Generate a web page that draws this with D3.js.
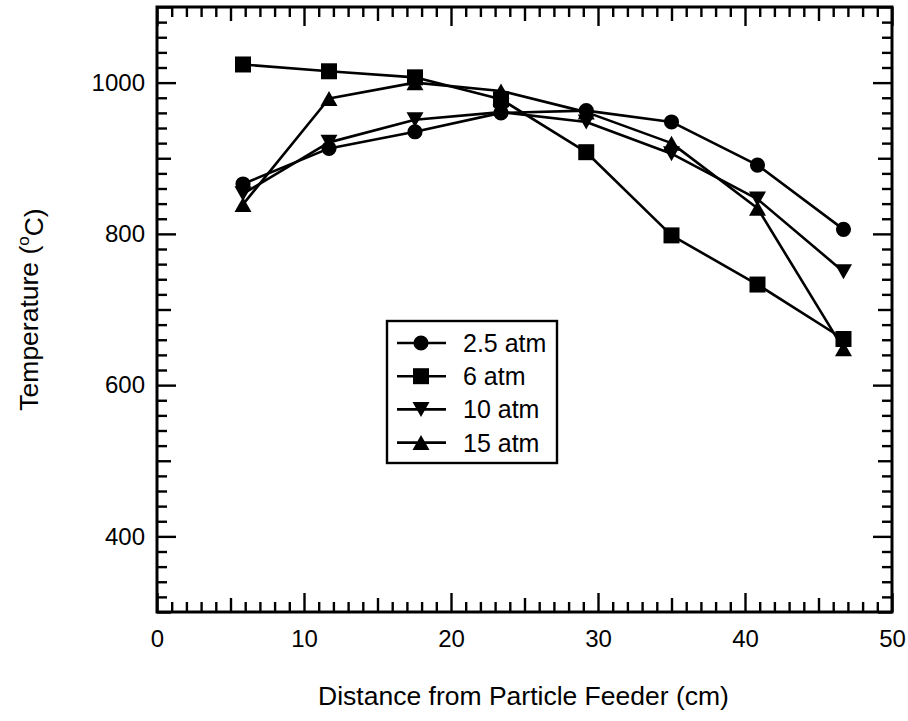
<!DOCTYPE html>
<html>
<head>
<meta charset="utf-8">
<script src="https://cdn.jsdelivr.net/npm/d3@7"></script>
<style>
  html, body { margin: 0; padding: 0; background: #fff; }
  svg { display: block; }
  text { font-family: "Liberation Sans", Arial, Helvetica, sans-serif; fill: #000; }
</style>
</head>
<body>
<svg id="chart" width="908" height="721"></svg>
<script>
// ---- data ----
const distances = [5.85, 11.7, 17.55, 23.4, 29.2, 35.0, 40.85, 46.7];
const series25 = [866, 913, 935, 960, 963, 948, 891, 806];
const series6  = [1024, 1015, 1007, 978, 908, 798, 733, 661];
const series10 = [853, 921, 951, 961, 948, 906, 846, 750];
const series15 = [839, 979, 1000, 989, 961, 920, 834, 648];
const seriesNames = ["2.5 atm", "6 atm", "10 atm", "15 atm"];
const seriesSymbols = ["circle", "square", "down", "up"];
const xMajorTicks = [0, 10, 20, 30, 40, 50];
const yMajorTicks = [400, 600, 800, 1000];
const xDomain = [0, 50];
const yDomain = [300, 1100];
const xLabel = "Distance from Particle Feeder (cm)";

const allSeries = [series25, series6, series10, series15];

const svg = d3.select("#chart");
const L = 157, R = 892, T = 7, B = 612;

const x = d3.scaleLinear().domain(xDomain).range([L, R]);
const y = d3.scaleLinear().domain(yDomain).range([B, T]);

const xMinor = d3.range(0, 51, 1).filter(v => v % 5 !== 0);
const xMedium = d3.range(5, 50, 10);
const yMinor = d3.range(300, 1101, 20).filter(v => v % 100 !== 0);
const yMedium = d3.range(300, 1101, 200);

const MINOR = 10, MEDIUM = 14, MAJOR = 19;
const axisColor = "#000";

function styleAxis(g) {
  g.select(".domain").remove();
  g.selectAll(".tick line").attr("stroke", axisColor).attr("stroke-width", 2.4);
}

function drawX(pos, axisFn, ticks, size) {
  const a = axisFn(x).tickValues(ticks).tickSize(-size).tickSizeOuter(0).tickFormat("");
  const g = svg.append("g").attr("transform", `translate(0,${pos})`).call(a);
  styleAxis(g);
  return g;
}
function drawY(pos, axisFn, ticks, size) {
  const a = axisFn(y).tickValues(ticks).tickSize(-size).tickSizeOuter(0).tickFormat("");
  const g = svg.append("g").attr("transform", `translate(${pos},0)`).call(a);
  styleAxis(g);
  return g;
}

[[xMinor, MINOR], [xMedium, MEDIUM], [xMajorTicks, MAJOR]].forEach(([t, s]) => {
  drawX(B, d3.axisBottom, t, s);
  drawX(T, d3.axisTop, t, s);
});
[[yMinor, MINOR], [yMedium, MEDIUM], [yMajorTicks, MAJOR]].forEach(([t, s]) => {
  drawY(L, d3.axisLeft, t, s);
  drawY(R, d3.axisRight, t, s);
});

// tick labels
const xl = svg.append("g").attr("transform", `translate(0,${B})`)
  .call(d3.axisBottom(x).tickValues(xMajorTicks).tickSize(0).tickPadding(18).tickFormat(d3.format("d")));
xl.select(".domain").remove();
xl.selectAll("text").style("font-size", "24px").style("font-family", "'Liberation Sans', Arial, sans-serif").attr("fill", "#000");

const yl = svg.append("g").attr("transform", `translate(${L},0)`)
  .call(d3.axisLeft(y).tickValues(yMajorTicks).tickSize(0).tickPadding(12).tickFormat(d3.format("d")));
yl.select(".domain").remove();
yl.selectAll("text").style("font-size", "24px").style("font-family", "'Liberation Sans', Arial, sans-serif").attr("fill", "#000");

// frame
svg.append("rect").attr("x", L).attr("y", T).attr("width", R - L).attr("height", B - T)
  .attr("fill", "none").attr("stroke", axisColor).attr("stroke-width", 3);

// symbols
function symbolPath(kind) {
  if (kind === "circle") return d3.symbol(d3.symbolCircle, 180)();
  if (kind === "square") return "M-8,-8H8V8H-8Z";
  if (kind === "up") return "M0,-7.5L8.5,7.5L-8.5,7.5Z";
  if (kind === "down") return "M0,7.5L8.5,-7.5L-8.5,-7.5Z";
}

const line = d3.line().x(d => x(d[0])).y(d => y(d[1]));

allSeries.forEach((vals) => {
  const pts = distances.map((d, j) => [d, vals[j]]);
  svg.append("path").datum(pts).attr("d", line)
    .attr("fill", "none").attr("stroke", "#000").attr("stroke-width", 2.6)
    .attr("stroke-linejoin", "round");
});
allSeries.forEach((vals, i) => {
  const pts = distances.map((d, j) => [d, vals[j]]);
  svg.append("g").selectAll("path").data(pts).join("path")
    .attr("transform", d => `translate(${x(d[0])},${y(d[1])})`)
    .attr("d", symbolPath(seriesSymbols[i]))
    .attr("fill", "#000");
});

// legend
const lg = svg.append("g");
lg.append("rect").attr("x", 387).attr("y", 321).attr("width", 170).attr("height", 142)
  .attr("fill", "#fff").attr("stroke", "#000").attr("stroke-width", 2.4);
seriesNames.forEach((name, i) => {
  const cy = 343 + i * 33.2;
  lg.append("line").attr("x1", 397).attr("x2", 446).attr("y1", cy).attr("y2", cy)
    .attr("stroke", "#000").attr("stroke-width", 2.6);
  lg.append("path").attr("transform", `translate(421,${cy})`).attr("d", symbolPath(seriesSymbols[i]))
    .attr("fill", "#000");
  lg.append("text").attr("x", 463).attr("y", cy).attr("dy", "0.36em")
    .style("font-size", "25px").text(name);
});

// axis titles
svg.append("text").attr("x", (L + R) / 2 - 1).attr("y", 705).attr("text-anchor", "middle")
  .style("font-size", "26.5px").text(xLabel);

const yt = svg.append("text").attr("transform", `translate(38,${(T + B) / 2}) rotate(-90)`)
  .attr("text-anchor", "middle").style("font-size", "26.5px");
yt.append("tspan").text("Temperature (");
yt.append("tspan").attr("dy", "-0.55em").style("font-size", "17px").text("o");
yt.append("tspan").attr("dy", "0.55em").text("C)");
</script>
</body>
</html>
